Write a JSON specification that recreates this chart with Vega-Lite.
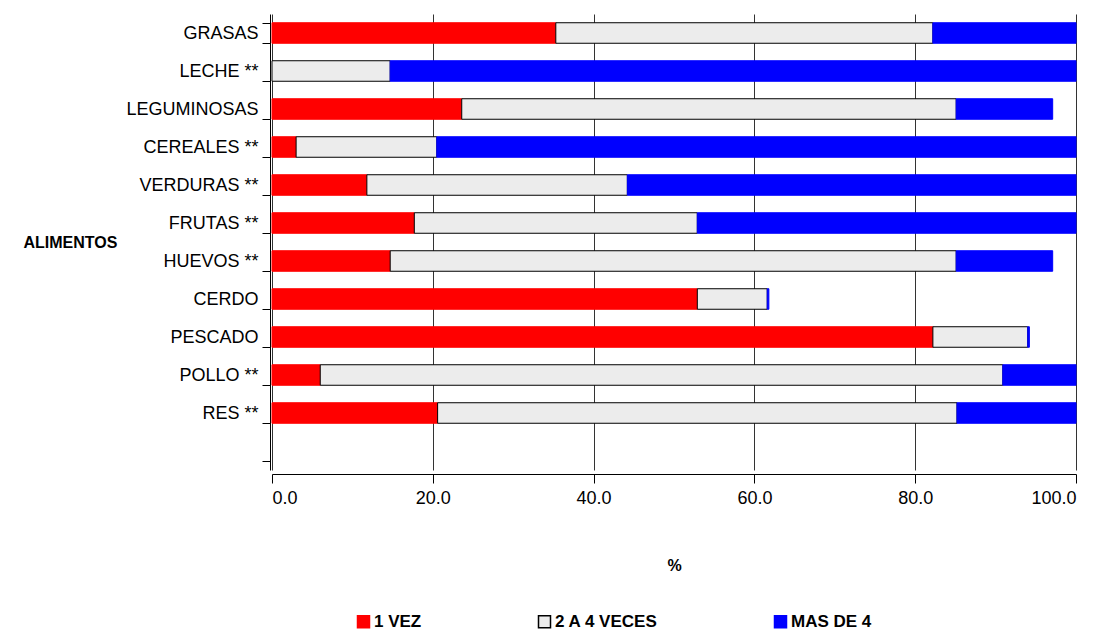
{
  "$schema": "https://vega.github.io/schema/vega-lite/v6.json",
  "autosize": "none",
  "width": 804,
  "height": 456,
  "padding": {"left": 272, "top": 14, "right": 25, "bottom": 162},
  "background": "white",
  "config": {
    "font": "Liberation Sans",
    "view": {"stroke": null}
  },
  "data": {
    "values": [
      {"alimento": "GRASAS", "serie": "1 VEZ", "orden": 1, "valor": 35.3},
      {"alimento": "GRASAS", "serie": "2 A 4 VECES", "orden": 2, "valor": 46.9},
      {"alimento": "GRASAS", "serie": "MAS DE 4", "orden": 3, "valor": 17.8},
      {"alimento": "LECHE **", "serie": "2 A 4 VECES", "orden": 2, "valor": 14.7},
      {"alimento": "LECHE **", "serie": "MAS DE 4", "orden": 3, "valor": 85.3},
      {"alimento": "LEGUMINOSAS", "serie": "1 VEZ", "orden": 1, "valor": 23.6},
      {"alimento": "LEGUMINOSAS", "serie": "2 A 4 VECES", "orden": 2, "valor": 61.5},
      {"alimento": "LEGUMINOSAS", "serie": "MAS DE 4", "orden": 3, "valor": 12.0},
      {"alimento": "CEREALES **", "serie": "1 VEZ", "orden": 1, "valor": 3.0},
      {"alimento": "CEREALES **", "serie": "2 A 4 VECES", "orden": 2, "valor": 17.5},
      {"alimento": "CEREALES **", "serie": "MAS DE 4", "orden": 3, "valor": 79.5},
      {"alimento": "VERDURAS **", "serie": "1 VEZ", "orden": 1, "valor": 11.8},
      {"alimento": "VERDURAS **", "serie": "2 A 4 VECES", "orden": 2, "valor": 32.4},
      {"alimento": "VERDURAS **", "serie": "MAS DE 4", "orden": 3, "valor": 55.8},
      {"alimento": "FRUTAS **", "serie": "1 VEZ", "orden": 1, "valor": 17.7},
      {"alimento": "FRUTAS **", "serie": "2 A 4 VECES", "orden": 2, "valor": 35.2},
      {"alimento": "FRUTAS **", "serie": "MAS DE 4", "orden": 3, "valor": 47.1},
      {"alimento": "HUEVOS **", "serie": "1 VEZ", "orden": 1, "valor": 14.7},
      {"alimento": "HUEVOS **", "serie": "2 A 4 VECES", "orden": 2, "valor": 70.4},
      {"alimento": "HUEVOS **", "serie": "MAS DE 4", "orden": 3, "valor": 12.0},
      {"alimento": "CERDO", "serie": "1 VEZ", "orden": 1, "valor": 52.9},
      {"alimento": "CERDO", "serie": "2 A 4 VECES", "orden": 2, "valor": 8.7},
      {"alimento": "CERDO", "serie": "MAS DE 4", "orden": 3, "valor": 0.2},
      {"alimento": "PESCADO", "serie": "1 VEZ", "orden": 1, "valor": 82.2},
      {"alimento": "PESCADO", "serie": "2 A 4 VECES", "orden": 2, "valor": 11.8},
      {"alimento": "PESCADO", "serie": "MAS DE 4", "orden": 3, "valor": 0.2},
      {"alimento": "POLLO **", "serie": "1 VEZ", "orden": 1, "valor": 6.0},
      {"alimento": "POLLO **", "serie": "2 A 4 VECES", "orden": 2, "valor": 84.9},
      {"alimento": "POLLO **", "serie": "MAS DE 4", "orden": 3, "valor": 9.1},
      {"alimento": "RES **", "serie": "1 VEZ", "orden": 1, "valor": 20.6},
      {"alimento": "RES **", "serie": "2 A 4 VECES", "orden": 2, "valor": 64.6},
      {"alimento": "RES **", "serie": "MAS DE 4", "orden": 3, "valor": 14.8}
    ]
  },
  "mark": {"type": "bar", "strokeWidth": 1},
  "encoding": {
    "y": {
      "field": "alimento",
      "type": "nominal",
      "scale": {
        "domain": ["GRASAS", "LECHE **", "LEGUMINOSAS", "CEREALES **", "VERDURAS **", "FRUTAS **", "HUEVOS **", "CERDO", "PESCADO", "POLLO **", "RES **", ""],
        "paddingInner": 0.46,
        "paddingOuter": 0.23
      },
      "axis": {
        "title": "ALIMENTOS",
        "titleAngle": 0,
        "titleX": -247,
        "titleY": 228,
        "titleAlign": "left",
        "titleBaseline": "middle",
        "titleFontSize": 16,
        "titleFontWeight": "bold",
        "titleColor": "black",
        "labelFontSize": 18,
        "labelColor": "black",
        "labelPadding": 4,
        "labelLimit": 250,
        "tickSize": 8,
        "tickColor": "black",
        "tickBand": "extent",
        "domainColor": "black",
        "offset": 2
      }
    },
    "x": {
      "field": "valor",
      "type": "quantitative",
      "stack": "zero",
      "scale": {"domain": [0, 100], "nice": false},
      "axis": {
        "title": "%",
        "titleFontSize": 16,
        "titleFontWeight": "bold",
        "titleColor": "black",
        "titlePadding": 50,
        "values": [0, 20, 40, 60, 80, 100],
        "format": ".1f",
        "labelFontSize": 18,
        "labelColor": "black",
        "labelPadding": 6,
        "tickSize": 9,
        "tickColor": "black",
        "domainColor": "black",
        "offset": 4,
        "grid": true,
        "gridColor": "#333333",
        "gridWidth": 1
      }
    },
    "color": {
      "field": "serie",
      "type": "nominal",
      "scale": {"domain": ["1 VEZ", "2 A 4 VECES", "MAS DE 4"], "range": ["#FF0000", "#ECECEC", "#0000FF"]},
      "legend": {
        "title": null,
        "orient": "none",
        "legendX": 83,
        "legendY": 599,
        "direction": "horizontal",
        "columnPadding": 113,
        "symbolType": "square",
        "symbolSize": 144,
        "symbolOpacity": 1,
        "labelFontSize": 17,
        "labelFontWeight": "bold",
        "labelColor": "black",
        "labelOffset": 2
      }
    },
    "stroke": {
      "field": "serie",
      "type": "nominal",
      "scale": {"domain": ["1 VEZ", "2 A 4 VECES", "MAS DE 4"], "range": ["#FF0000", "#000000", "#0000FF"]}
    },
    "order": {"field": "orden", "type": "quantitative"}
  }
}
